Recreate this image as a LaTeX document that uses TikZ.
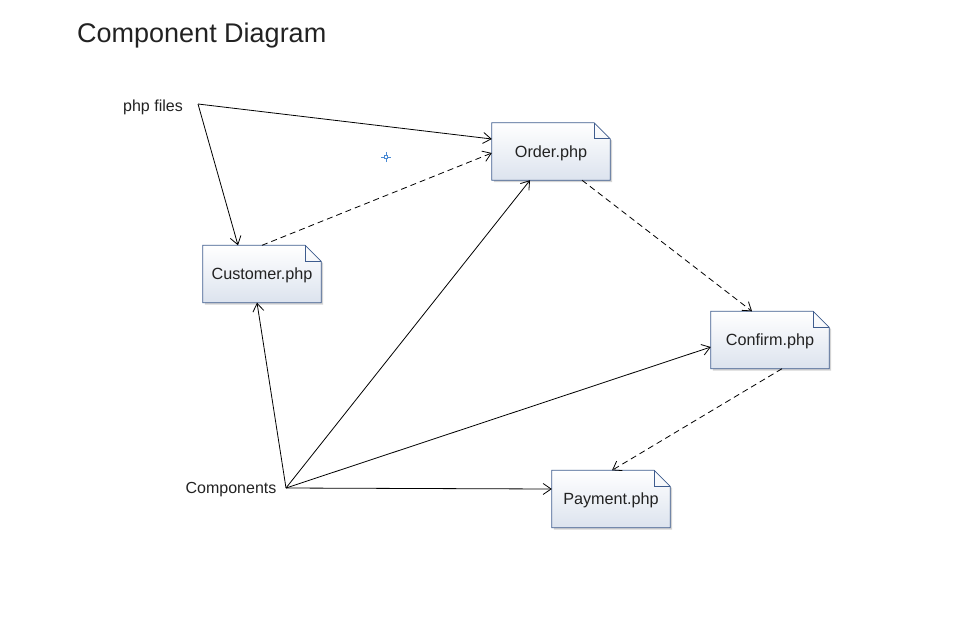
\documentclass[tikz,border=0pt]{standalone}
\usepackage{fontspec}
\setmainfont{Liberation Sans}
\usetikzlibrary{arrows.meta,backgrounds}
\definecolor{docborder}{HTML}{3E5C8E}
\definecolor{docbot}{HTML}{DCE3EE}
\definecolor{txt}{HTML}{222222}
\definecolor{shad}{HTML}{D4D4D4}
\definecolor{cross}{HTML}{4A8AD4}
\tikzset{
  doc/.style={rectangle, minimum width=118pt, minimum height=57pt, inner sep=0pt,
    text height=11.5pt, text depth=0pt,
    font=\fontsize{16.2}{19}\selectfont, text=txt},
  lbl/.style={font=\fontsize{16}{19}\selectfont, text=txt, inner sep=0pt},
  conn/.style={line width=0.8pt, -{Straight Barb[length=8pt,width=11pt,line width=0.8pt]}},
  dep/.style={conn, dash pattern=on 6pt off 4pt}
}
\newcommand{\docnode}[4]{%
  \node[doc] (#1) at (#2,#3) {#4};
  \begin{scope}[on background layer]
    \fill[shad] ([shift={(2pt,-2pt)}]#1.north west) -- ([shift={(-14pt,-2pt)}]#1.north east) -- ([shift={(2pt,-18pt)}]#1.north east) -- ([shift={(2pt,-2pt)}]#1.south east) -- ([shift={(2pt,-2pt)}]#1.south west) -- cycle;
    \shade[top color=white, bottom color=docbot, draw=docborder, line width=0.8pt]
      (#1.north west) -- ([xshift=-16pt]#1.north east) -- ([yshift=-16pt]#1.north east)
      -- (#1.south east) -- (#1.south west) -- cycle;
    \draw[docborder, line width=0.8pt] ([xshift=-16pt]#1.north east) |- ([yshift=-16pt]#1.north east);
  \end{scope}}
\begin{document}
\begin{tikzpicture}[x=1pt,y=-1pt]
\useasboundingbox (0,0) rectangle (976,635);
\node[anchor=west, font=\fontsize{27}{31}\selectfont, text=txt, inner sep=0pt] (title) at (77,36) {Component Diagram};

\docnode{order}{551}{151.5}{Order.php}
\docnode{customer}{262}{274}{Customer.php}
\docnode{confirm}{770}{340}{Confirm.php}
\docnode{payment}{611}{499}{Payment.php}

\node[lbl] (phpfiles) at (153,107.5) {php files};
\coordinate (phpfilesend) at (198,104);
\node[lbl] (components) at (231,489.5) {Components};
\coordinate (compend) at (286,488);

\draw[conn] (phpfilesend) -- ([yshift=12.5pt]order.west);
\draw[conn] (phpfilesend) -- ([xshift=-24pt]customer.north);
\draw[dep] (customer.north) -- ([yshift=-1.5pt]order.west);
\draw[dep] ([xshift=31pt]order.south) -- ([xshift=-18pt]confirm.north);
\draw[dep] ([xshift=12pt]confirm.south) -- ([xshift=1pt]payment.north);
\draw[conn] (compend) -- ([xshift=-5pt]customer.south);
\draw[conn] (compend) -- ([xshift=-21pt]order.south);
\draw[conn] (compend) -- ([yshift=-7pt]confirm.west);
\draw[conn] (compend) -- ([yshift=10pt]payment.west);

% small crosshair marker
\coordinate (mark) at (386,157);
\draw[cross, line width=0.9pt] ([xshift=-5pt]mark) -- ([xshift=-1.5pt]mark)
  ([xshift=1.5pt]mark) -- ([xshift=5pt]mark)
  ([yshift=-5pt]mark) -- ([yshift=-1.5pt]mark)
  ([yshift=1.5pt]mark) -- ([yshift=5pt]mark);
\draw[cross, line width=0.6pt] ([shift={(-1.5pt,-1.5pt)}]mark) rectangle ([shift={(1.5pt,1.5pt)}]mark);
\end{tikzpicture}
\end{document}
